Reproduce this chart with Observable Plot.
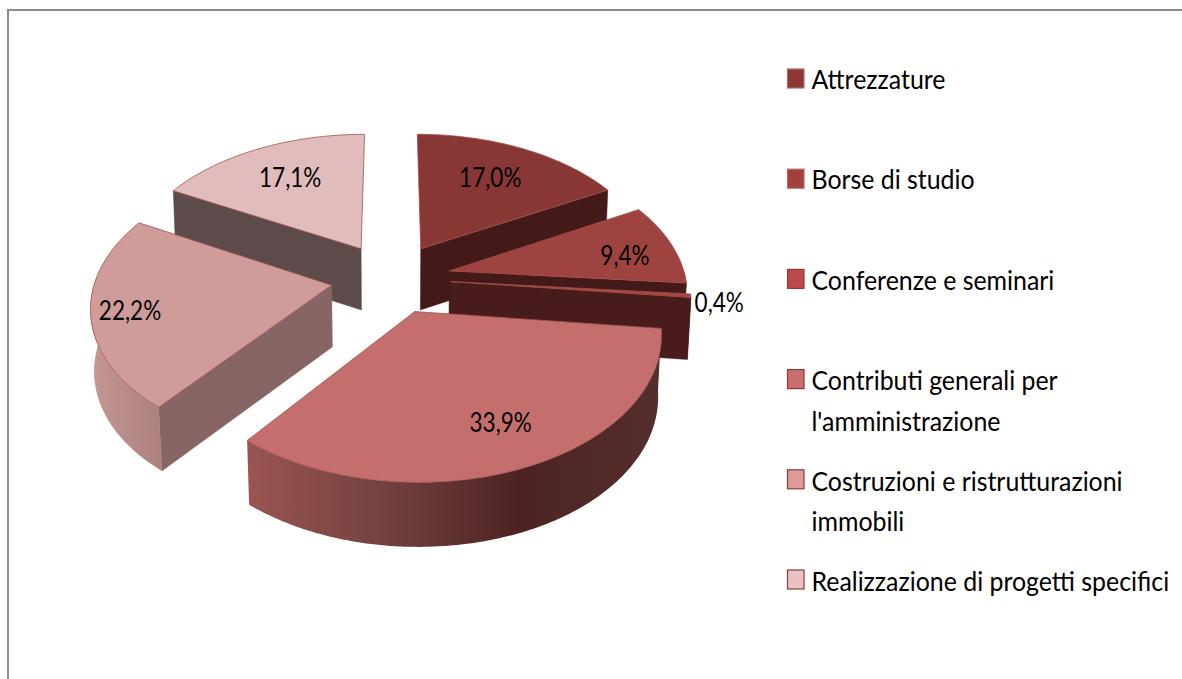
<!DOCTYPE html>
<html>
<head>
<meta charset="utf-8">
<script src="https://cdn.jsdelivr.net/npm/d3@7"></script>
<script src="https://cdn.jsdelivr.net/npm/@observablehq/plot@0.6"></script>
<style>
html,body{margin:0;padding:0;background:#fff}
svg{display:block}
</style>
</head>
<body>
<script>
// --- data ---
const categories = ["Attrezzature","Borse di studio","Conferenze e seminari","Contributi generali per\nl'amministrazione","Costruzioni e ristrutturazioni\nimmobili","Realizzazione di progetti specifici"];
const shares = [17.0, 9.4, 0.4, 33.9, 22.2, 17.1];
const shareLabels = ["17,0%","9,4%","0,4%","33,9%","22,2%","17,1%"];
// --- styles ---
const topColors = ["#893735","#9e4340","#a8453f","#c46f6d","#d09c99","#e0bdbc"];
const sideColors = ["#431a18","#431a18","#471c1a","#522c29","#866564","#5c4b4a"];
const arcFills = ["#431a18","#4a1e1c","#471c1a","url(#arc4)","url(#arc5)","#5c4b4a"];
const swatchFills = ["#8a3735","#a33f3c","#bb4b48","#c96e6c","#dc9c9a","#e8c2c2"];
const swatchStrokes = ["#b06a68","#b06a68","#8f3a38","#8f3a38","#8f3a38","#8f3a38"];
// --- 3D view of the pie ---
const view = {cx:390.5, cy:277.6, A:236, B:137.5, p:0.136, q:0.012, H:62, e:0.255};
const drawOrder = [5,0,1,2,4,3];
const labelRadius = [0.67,0.765,1.125,0.74,0.84,0.67];
const labelShiftX = [-1,5,-2,7,0,0];
const labelShiftY = [-1,6,6,1,2,-1];
const rad = d => d*Math.PI/180;
const ends = d3.cumsum(shares).map(v => v/d3.sum(shares)*360);
const starts = ends.map((_,i) => i ? ends[i-1] : 0);
const mids = ends.map((v,i) => (v+starts[i])/2);
function pt(i, rho, deg, bottom){
  const {cx,cy,A,B,p,q,H,e} = view;
  const u = e*Math.sin(rad(mids[i])) + rho*Math.sin(rad(deg));
  const c = e*Math.cos(rad(mids[i])) + rho*Math.cos(rad(deg));
  const w = 1 + p*c + (bottom ? q : 0);
  return {x: cx + A*u/w, y: cy - B*c/w + (bottom ? H/Math.sqrt(w) : 0)};
}
function arc(a,b){
  const n = Math.max(2, Math.ceil(Math.abs(b-a)));
  return d3.range(n+1).map(k => a + (b-a)*k/n);
}
const closed = pts => [...pts, pts[0]];
const strokeCol = "#a5514e";
function poly(pts, fill, stroke=strokeCol, sw=0.8){
  return Plot.line(closed(pts), {x:"x", y:"y", fill, stroke, strokeWidth:sw, curve:"linear", strokeLinejoin:"round"});
}
function sliceMarks(i){
  const a=starts[i], b=ends[i], marks=[];
  const wall = deg => [pt(i,0,0,false),pt(i,1,deg,false),pt(i,1,deg,true),pt(i,0,0,true)];
  if (Math.cos(rad(a-90))<0) marks.push(poly(wall(a), sideColors[i], sideColors[i], 0.5));
  if (Math.cos(rad(b+90))<0) marks.push(poly(wall(b), sideColors[i], sideColors[i], 0.5));
  const lo=Math.max(a,90), hi=Math.min(b,272);
  if (hi>lo){
    const as=arc(lo,hi);
    marks.push(poly([...as.map(d=>pt(i,1,d,false)), ...as.slice().reverse().map(d=>pt(i,1,d,true))], arcFills[i], "none", 0));
  }
  marks.push(poly([pt(i,0,0,false), ...arc(a,b).map(d=>pt(i,1,d,false))], topColors[i]));
  return marks;
}
const defs = () => {
  const d = d3.create("svg:defs");
  const grad = (id,x1,x2,stops) => {
    const g = d.append("linearGradient").attr("id",id).attr("gradientUnits","userSpaceOnUse")
      .attr("x1",x1).attr("x2",x2).attr("y1",0).attr("y2",0);
    stops.forEach(([o,c]) => g.append("stop").attr("offset",o).attr("stop-color",c));
  };
  grad("arc4",248,660,[[0,"#9a5552"],[0.33,"#72413f"],[0.66,"#4c2321"],[1,"#552f2c"]]);
  grad("arc5",93,167,[[0,"#c39693"],[1,"#aa7f7c"]]);
  return d.node();
};
// The reference's text is tall and narrow: squeeze each text horizontally.
const squeeze = k => function(index, scales, values, dims, ctx, next){
  const g = next(index, scales, values, dims, ctx);
  d3.select(g).selectAll("text").each(function(){
    const t = this.getAttribute("transform") || "";
    this.setAttribute("transform", t + ` scale(${k},1)`);
  });
  return g;
};
const labelData = shareLabels.map((t,i)=>{const q=pt(i,labelRadius[i],mids[i],false);return {t,x:q.x+labelShiftX[i],y:q.y+labelShiftY[i]};});
const legendFont = "Lato, 'Noto Sans', sans-serif";
const legendData = categories.map((t,i)=>({t, i, sy:78.5+100.2*i, ty:75.5+100.4*i + (t.includes("\n")?20.5:0)}));
const chart = Plot.plot({
  width:1182, height:679, margin:0,
  x:{domain:[0,1182], range:[0,1182], axis:null},
  y:{domain:[0,679], range:[0,679], axis:null},
  style:{background:"#fff"},
  marks:[
    defs,
    Plot.ruleY([9.5],{x1:7,x2:1182,stroke:"#8c8c8c",strokeWidth:2}),
    Plot.ruleX([7.5],{y1:9,y2:679,stroke:"#8c8c8c",strokeWidth:2}),
    ...drawOrder.flatMap(sliceMarks),
    Plot.text(labelData,{x:"x",y:"y",text:"t",fontSize:27.5,fontFamily:legendFont,fill:"#000",textAnchor:"middle",lineAnchor:"middle",render:squeeze(0.82)}),
    ...legendData.map(d=>Plot.rect([d],{x1:()=>787.5,x2:()=>804,y1:()=>d.sy-9.5,y2:()=>d.sy+9.5,fill:swatchFills[d.i],stroke:swatchStrokes[d.i],strokeWidth:1.2})),
    Plot.text(legendData,{x:()=>811,y:"ty",text:"t",fontSize:27.5,lineHeight:1.48,fontFamily:legendFont,fill:"#000",textAnchor:"start",lineAnchor:"middle",render:squeeze(0.905)})
  ]
});
document.body.appendChild(chart);
</script>
</body>
</html>
